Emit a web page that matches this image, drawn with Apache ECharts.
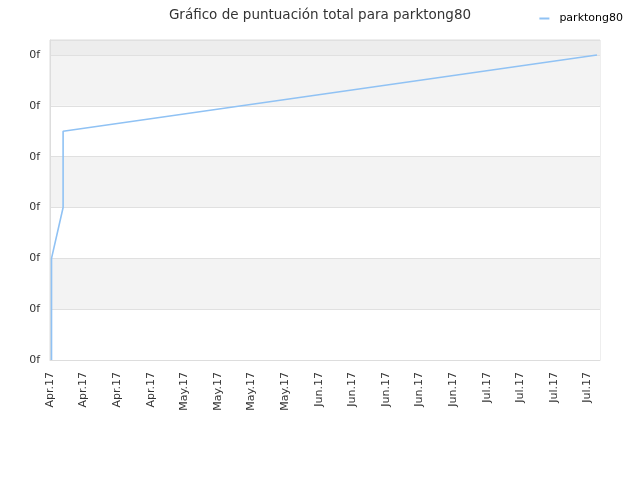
<!DOCTYPE html>
<html>
<head>
<meta charset="utf-8">
<script src="https://cdn.jsdelivr.net/npm/echarts@6/dist/echarts.min.js"></script>
<style>html,body{margin:0;padding:0;background:#fff}#c{width:640px;height:480px}</style>
</head>
<body>
<div id="c"></div>
<script>
var titleText = 'Gráfico de puntuación total para parktong80';
var seriesName = 'parktong80';
var xTickLabels = ['Apr.17','Apr.17','Apr.17','Apr.17','May.17','May.17','May.17','May.17','Jun.17','Jun.17','Jun.17','Jun.17','Jun.17','Jul.17','Jul.17','Jul.17','Jul.17'];
var yTickLabels = ['0f','0f','0f','0f','0f','0f','0f'];
var xPos = [0.045, 0.045, 0.39, 0.39, 16.28];
var yVals = [0, 2, 3, 4.5, 6];

var data = xPos.map(function(x, i){ return [x, yVals[i]]; });
var chart = echarts.init(document.getElementById('c'));
chart.setOption({
  animation: false,
  backgroundColor: '#fff',
  title: { text: titleText, left: 'center', top: 3, textStyle: { fontSize: 13.5, fontWeight: 'normal', color: '#333', fontFamily: 'DejaVu Sans' } },
  legend: { right: 12, top: 8, icon: 'rect', itemWidth: 10, itemHeight: 2, itemGap: 10,
    textStyle: { fontSize: 11, color: '#000', fontFamily: 'DejaVu Sans', padding: [0, 0, 0, 5] }, data: [seriesName] },
  grid: { left: 50, right: 40, top: 40, bottom: 120, show: true, borderColor: '#ddd', borderWidth: 1, containLabel: false },
  xAxis: {
    type: 'value', min: 0, max: 16.37, interval: 1,
    axisLine: { show: true, lineStyle: { color: '#ddd' } },
    axisTick: { show: false },
    splitLine: { show: false },
    axisLabel: { rotate: 90, fontSize: 11, color: '#333', margin: 12, fontFamily: 'DejaVu Sans',
      formatter: function(v){ var i = Math.round(v); return (Math.abs(v - i) < 1e-6 && xTickLabels[i] !== undefined) ? xTickLabels[i] : ''; } }
  },
  yAxis: {
    type: 'value', min: 0, max: 6.295, interval: 1,
    axisLine: { show: true, lineStyle: { color: '#ddd' } },
    axisTick: { show: false },
    splitLine: { show: true, lineStyle: { color: '#e0e0e0' } },
    splitArea: { show: true, areaStyle: { color: ['#ffffff','#f3f3f3','#ffffff','#f3f3f3','#ffffff','#f3f3f3','#ededed'] } },
    axisLabel: { fontSize: 11, color: '#333', margin: 10, fontFamily: 'DejaVu Sans',
      formatter: function(v){ var i = Math.round(v); return (Math.abs(v - i) < 1e-6 && yTickLabels[i] !== undefined) ? yTickLabels[i] : ''; } }
  },
  series: [{
    name: seriesName, type: 'line', data: data, showSymbol: false, symbol: 'none',
    lineStyle: { color: '#90c2f4', width: 1.6 }, itemStyle: { color: '#90c2f4' }
  }]
});
</script>
</body>
</html>
